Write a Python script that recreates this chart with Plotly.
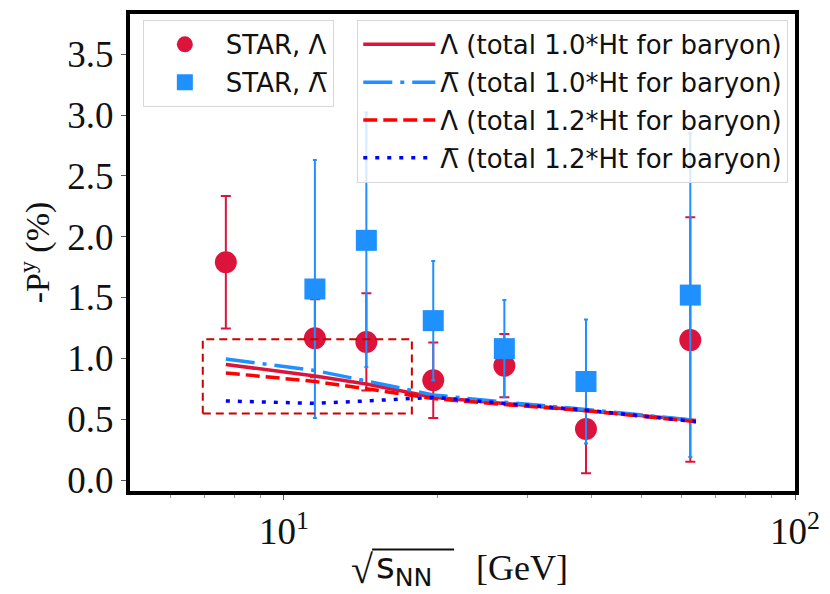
import numpy as np
import plotly.graph_objects as go

# ---------------- data ----------------
energy = [7.7, 11.5, 14.5, 19.6, 27, 39, 62.4]

lam_y = [1.79, 1.165, 1.135, 0.82, 0.94, 0.42, 1.15]
lam_err_plus = [0.545, 0.32, 0.40, 0.31, 0.26, 0.365, 1.01]
lam_err_minus = [0.545, 0.32, 0.40, 0.31, 0.26, 0.365, 1.00]

alam_energy = [11.5, 14.5, 19.6, 27, 39, 62.4]
alam_y = [1.57, 1.97, 1.31, 1.08, 0.81, 1.52]
alam_err_plus = [1.06, 1.05, 0.49, 0.40, 0.51, 1.33]
alam_err_minus = [1.06, 1.04, 0.49, 0.40, 0.51, 1.33]

model_energy = [7.7, 11.5, 14.5, 19.6, 27, 39, 64]
lam_10 = [0.95, 0.855, 0.79, 0.68, 0.63, 0.57, 0.49]
alam_10 = [0.995, 0.90, 0.815, 0.70, 0.64, 0.58, 0.49]
lam_12 = [0.88, 0.81, 0.75, 0.67, 0.62, 0.57, 0.48]
alam_12 = [0.65, 0.63, 0.65, 0.68, 0.63, 0.575, 0.48]

box_x = [6.94, 17.8]
box_y = [0.547, 1.158]

x_range = [5, 100]
y_range = [-0.09, 3.83]
y_ticks = [0.0, 0.5, 1.0, 1.5, 2.0, 2.5, 3.0, 3.5]
x_major = [10, 100]
x_major_text = ["10<sup>1</sup>", "10<sup>2</sup>"]
x_minor = [6, 7, 8, 9, 20, 30, 40, 50, 60, 70, 80, 90]

LAM = "Λ"
ALAM = "Λ\u0305"

CRIMSON = "#DC143C"
DBLUE = "#1E90FF"

# layout geometry (pixels)
W, H = 830, 594
ML, MR, MT, MB = 130, 27, 10, 103
PW, PH = W - ML - MR, H - MT - MB


def px_to_paper(px, py):
    return (px - ML) / PW, (H - MB - py) / PH


fig = go.Figure()

# data points
fig.add_trace(go.Scatter(
    x=energy, y=lam_y, mode="markers", name="STAR, " + LAM,
    marker=dict(symbol="circle", size=22, color=CRIMSON),
    error_y=dict(type="data", symmetric=False, array=lam_err_plus,
                 arrayminus=lam_err_minus, color=CRIMSON, thickness=2, width=5),
    legend="legend", legendgroup="a",
))
fig.add_trace(go.Scatter(
    x=alam_energy, y=alam_y, mode="markers", name="STAR, " + ALAM,
    marker=dict(symbol="square", size=21, color=DBLUE),
    error_y=dict(type="data", symmetric=False, array=alam_err_plus,
                 arrayminus=alam_err_minus, color=DBLUE, thickness=2, width=2),
    legend="legend", legendgroup="b",
))

# model curves
fig.add_trace(go.Scatter(
    x=model_energy, y=lam_10, mode="lines",
    name=LAM + " (total 1.0*Ht for baryon)",
    line=dict(color=CRIMSON, width=3.5),
    legend="legend2", legendgroup="c",
))
fig.add_trace(go.Scatter(
    x=model_energy, y=alam_10, mode="lines",
    name=ALAM + " (total 1.0*Ht for baryon)",
    line=dict(color=DBLUE, width=3.5, dash="29px,8px,4px,8px"),
    legend="legend2", legendgroup="d",
))
fig.add_trace(go.Scatter(
    x=model_energy, y=lam_12, mode="lines",
    name=LAM + " (total 1.2*Ht for baryon)",
    line=dict(color="#FF0000", width=3.5, dash="14px,6px"),
    legend="legend2", legendgroup="e",
))
fig.add_trace(go.Scatter(
    x=model_energy, y=alam_12, mode="lines",
    name=ALAM + " (total 1.2*Ht for baryon)",
    line=dict(color="#0000FF", width=3.5, dash="4px,8px"),
    legend="legend2", legendgroup="f",
))

# dashed highlight box
fig.add_trace(go.Scatter(
    x=[box_x[0], box_x[1], box_x[1], box_x[0], box_x[0]],
    y=[box_y[0], box_y[0], box_y[1], box_y[1], box_y[0]],
    mode="lines", line=dict(color="#CC0000", width=2, dash="8px,5px"),
    showlegend=False, hoverinfo="skip",
))

legend_common = dict(
    bgcolor="rgba(255,255,255,0.8)", bordercolor="#d8d8d8", borderwidth=1,
    font=dict(family="DejaVu Sans", size=26, color="#111"),
    xanchor="left", yanchor="top", traceorder="grouped", tracegroupgap=1,
    itemwidth=72,
)

lx1, ly = px_to_paper(143, 16)
lx2, _ = px_to_paper(360, 16)

fig.update_layout(
    width=W, height=H,
    margin=dict(l=ML, r=MR, t=MT, b=MB),
    paper_bgcolor="white", plot_bgcolor="white",
    legend=dict(x=lx1, y=ly, **legend_common),
    legend2=dict(x=lx2, y=ly, **legend_common),
    font=dict(family="Liberation Serif", color="#111"),
)

fig.update_xaxes(
    type="log", range=[np.log10(x_range[0]), np.log10(x_range[1])],
    tickmode="array", tickvals=x_major, ticktext=x_major_text,
    ticks="outside", ticklen=5, tickwidth=1, tickcolor="#555",
    tickfont=dict(family="Liberation Serif", size=37, color="#111"),
    minor=dict(tickmode="array", tickvals=x_minor, ticks="outside",
               ticklen=3, tickcolor="#999", showgrid=False),
    showline=True, linewidth=4, linecolor="black", mirror=True,
    showgrid=False, zeroline=False,
)
fig.update_yaxes(
    range=y_range, tickmode="array", tickvals=y_ticks,
    ticktext=[f"{v:.1f}" for v in y_ticks],
    ticks="outside", ticklen=5, tickwidth=1, tickcolor="#555",
    tickfont=dict(family="Liberation Serif", size=37, color="#111"),
    showline=True, linewidth=4, linecolor="black", mirror=True,
    showgrid=False, zeroline=False,
    title=dict(text="-P<sup>y</sup> (%)", standoff=8,
               font=dict(family="Liberation Serif", size=34, color="#111")),
)

# x axis title, in three pieces: radical, s_NN, [GeV]
rx, ry = px_to_paper(378, 570)
fig.add_annotation(x=rx, y=ry, xref="paper", yref="paper", xanchor="right",
                   yanchor="middle", showarrow=False, text="√",
                   font=dict(family="Liberation Serif", size=40, color="#111"))
sx, sy = px_to_paper(377, 569)
fig.add_annotation(x=sx, y=sy, xref="paper", yref="paper", xanchor="left",
                   yanchor="middle", showarrow=False, text="s<sub>NN</sub>",
                   font=dict(family="DejaVu Sans", size=36, color="#111"))
gx, gy = px_to_paper(478, 569)
fig.add_annotation(x=gx, y=gy, xref="paper", yref="paper", xanchor="left",
                   yanchor="middle", showarrow=False, text="[GeV]",
                   font=dict(family="Liberation Serif", size=36, color="#111"))
ox0, oy = px_to_paper(375, 550)
ox1, _ = px_to_paper(458, 550)
fig.add_shape(type="line", xref="paper", yref="paper",
              x0=ox0, x1=ox1, y0=oy, y1=oy,
              line=dict(color="#111", width=2))

fig.write_html("out.html")
